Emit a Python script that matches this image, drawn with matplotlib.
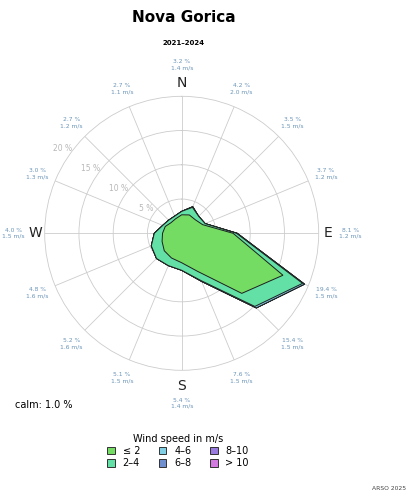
import numpy as np
import matplotlib
matplotlib.use("Agg")
import matplotlib.pyplot as plt
from matplotlib.patches import Patch, Polygon

# ---------------- data ----------------
directions = ['N', 'NNE', 'NE', 'ENE', 'E', 'ESE', 'SE', 'SSE',
              'S', 'SSW', 'SW', 'WSW', 'W', 'WNW', 'NW', 'NNW']
total_pct = [3.2, 4.2, 3.5, 3.7, 8.1, 19.4, 15.4, 7.6,
             5.4, 5.1, 5.2, 4.8, 4.0, 3.0, 2.7, 2.7]
mean_speed = [1.4, 2.0, 1.5, 1.2, 1.2, 1.5, 1.5, 1.5,
              1.4, 1.5, 1.6, 1.6, 1.5, 1.3, 1.2, 1.1]
pct_le2 = [2.7, 2.9, 2.8, 3.3, 7.5, 16.0, 12.4, 6.0,
           4.3, 3.9, 3.6, 3.1, 2.8, 2.6, 2.2, 2.3]
pct_2_4 = [0.5, 1.2, 0.7, 0.4, 0.5, 3.1, 2.7, 1.5,
           1.1, 1.2, 1.6, 1.7, 1.2, 0.4, 0.5, 0.4]
pct_4_6 = [0.0, 0.1, 0.0, 0.0, 0.1, 0.3, 0.3, 0.1,
           0.0, 0.0, 0.0, 0.0, 0.0, 0.0, 0.0, 0.0]
pct_6_8 = [0.0] * 16
pct_8_10 = [0.0] * 16
pct_gt10 = [0.0] * 16
class_labels = ['≤ 2', '2–4', '4–6', '6–8', '8–10', '> 10']
class_colors = ['#74dc62', '#62e0a6', '#80cfe4', '#6f8fcf', '#9a7ce0', '#d27ae0']
ring_values = [5, 10, 15, 20]
calm_pct = 1.0
title = 'Nova Gorica'
subtitle = '2021–2024'

# ---------------- figure ----------------
W, H = 409, 493
fig = plt.figure(figsize=(W / 100, H / 100), dpi=100)
fig.patch.set_facecolor('white')

cx, cy, rad = 181.7, 233.3, 137.0
ax = fig.add_axes([(cx - rad) / W, 1 - (cy + rad) / H, 2 * rad / W, 2 * rad / H],
                  projection='polar')
ax.set_theta_zero_location('N')
ax.set_theta_direction(-1)
ax.set_ylim(0, 20)

theta = np.deg2rad(np.arange(16) * 22.5)
ax.set_thetagrids(np.arange(16) * 22.5, labels=[''] * 16)
ax.set_rgrids(ring_values[:-1], labels=[''] * 3)
ax.grid(True, color='#cccccc', lw=0.6)
ax.spines['polar'].set_color('#cccccc')
ax.spines['polar'].set_linewidth(0.6)
ax.tick_params(length=0)

# stacked polygons with straight edges (points mapped through the polar data transform)
series = [pct_le2, pct_2_4, pct_4_6, pct_6_8, pct_8_10, pct_gt10]
cum = np.cumsum(np.array(series), axis=0)
to_axes = ax.transData + ax.transAxes.inverted()
for i in range(len(series) - 1, -1, -1):
    pts = to_axes.transform(np.column_stack([theta, cum[i]]))
    poly = Polygon(pts, closed=True, transform=ax.transAxes,
                   facecolor=class_colors[i], edgecolor='#1e1e1e', lw=0.7,
                   zorder=3 + (len(series) - i) * 0.01)
    ax.add_patch(poly)

# ring labels
ang_ring = np.deg2rad(305.5)
for rv in ring_values:
    ax.text(ang_ring, rv + 1.3, f'{rv} %', color='#b8b8b8', fontsize=5.5,
            ha='center', va='center', zorder=2)

# compass letters and direction labels
card = {'N': (0, 22.0, 24.6), 'E': (90, 21.3, 24.6), 'S': (180, 22.3, 24.8), 'W': (270, 21.4, 24.6)}
for k, d in enumerate(directions):
    txt = f'{total_pct[k]:.1f} %\n{mean_speed[k]:.1f} m/s'
    if d in card:
        deg, rl, rt = card[d]
        ax.text(np.deg2rad(deg), rl, d, fontsize=10, ha='center', va='center',
                color='#222222', clip_on=False)
        ax.text(np.deg2rad(deg), rt, txt, fontsize=4.3, ha='center', va='center',
                color='#6a94b8', linespacing=1.3, clip_on=False)
    else:
        ax.text(theta[k], 22.8, txt, fontsize=4.3, ha='center', va='center',
                color='#6a94b8', linespacing=1.3, clip_on=False)

# titles
fig.text(184 / W, 1 - 18 / H, title, fontsize=11, fontweight='bold', ha='center', va='center')
fig.text(184 / W, 1 - 43 / H, subtitle, fontsize=5, fontweight='bold', ha='center', va='center')
fig.text(15 / W, 1 - 405 / H, f'calm: {calm_pct:.1f} %', fontsize=7, ha='left', va='center')
fig.text(406 / W, 1 - 488 / H, 'ARSO 2025', fontsize=4.3, ha='right', va='center', color='#444444')

# legend
handles = [Patch(facecolor=c, edgecolor='#333333', lw=0.7, label=l)
           for c, l in zip(class_colors, class_labels)]
leg = fig.legend(handles=handles, ncol=3, loc='center',
                 bbox_to_anchor=(178 / W, 1 - 451 / H), frameon=False,
                 title='Wind speed in m/s', fontsize=7, title_fontsize=7,
                 handlelength=0.8, handleheight=0.8, handletextpad=0.8,
                 columnspacing=1.9, labelspacing=0.25)

fig.savefig('out.png', dpi=100, facecolor='white')
